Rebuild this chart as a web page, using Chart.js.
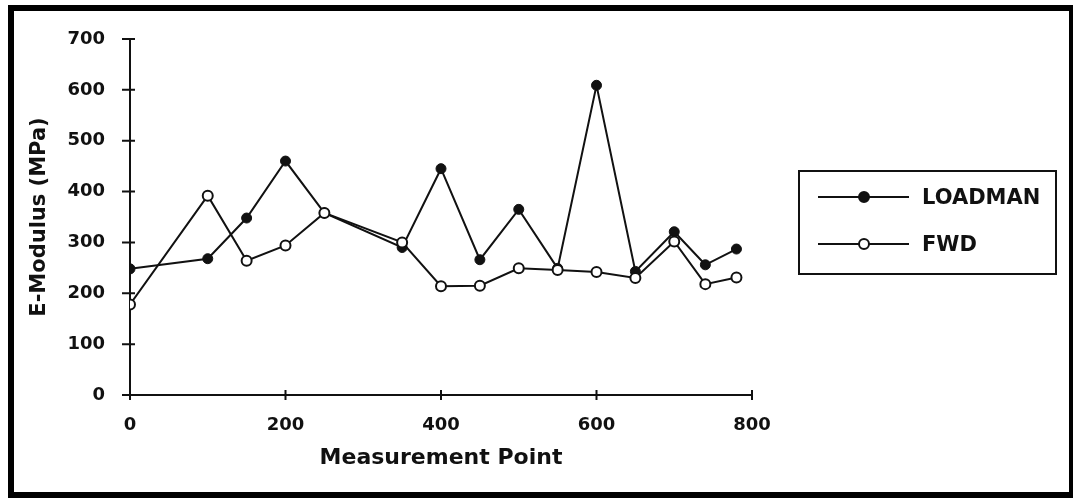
<!DOCTYPE html>
<html>
<head>
<meta charset="utf-8">
<script src="https://cdn.jsdelivr.net/npm/chart.js@4/dist/chart.umd.min.js"></script>
<style>
  html, body { margin: 0; padding: 0; background: #fff; overflow: hidden; }
  #wrap { position: relative; width: 1073px; height: 501px; }
  #frame {
    position: absolute; left: 8px; top: 5px; width: 1055px; height: 481px;
    border: 6px solid #000; border-right-width: 6px; pointer-events: none;
  }
  #legend {
    position: absolute; left: 798px; top: 170px; width: 255px; height: 101px;
    border: 2px solid #111; font: bold 21px "DejaVu Sans", sans-serif; color: #111;
  }
  .item { position: absolute; left: 18px; height: 24px; display: flex; align-items: center; }
  .swatch { position: relative; width: 91px; height: 2px; background: #111; margin-right: 13px; }
  .dot { position: absolute; left: 40px; top: -5px; width: 8px; height: 8px; border: 2px solid #111; border-radius: 50%; }
</style>
</head>
<body>
<div id="wrap">
  <canvas id="chart" width="1073" height="501"></canvas>
  <div id="legend"></div>
  <div id="frame"></div>
</div>
<script>
// measurement positions and E-modulus readings (MPa)
const positions = [0, 100, 150, 200, 250, 350, 400, 450, 500, 550, 600, 650, 700, 740, 780];
const loadman   = [248, 268, 348, 460, 358, 290, 445, 266, 365, 249, 609, 243, 321, 256, 287];
const fwd       = [178, 392, 264, 294, 358, 300, 214, 215, 249, 246, 242, 230, 302, 218, 231];
const seriesNames = ['LOADMAN', 'FWD'];
const xTickValues = [0, 200, 400, 600, 800];
const yTickValues = [0, 100, 200, 300, 400, 500, 600, 700];

const ink = '#111';
const tickFont = { family: 'DejaVu Sans', size: 18, weight: 'bold' };

// little tick marks crossing each axis, like the original plot
const crossTicks = {
  id: 'crossTicks',
  afterDraw(chart) {
    const { ctx, scales: { x, y } } = chart;
    ctx.save();
    ctx.strokeStyle = ink;
    ctx.lineWidth = 2;
    ctx.beginPath();
    xTickValues.forEach(v => {
      const px = x.getPixelForValue(v);
      ctx.moveTo(px, y.bottom - 5);
      ctx.lineTo(px, y.bottom + 5);
    });
    yTickValues.forEach(v => {
      const py = y.getPixelForValue(v);
      ctx.moveTo(x.left - 8, py);
      ctx.lineTo(x.left + 5, py);
    });
    ctx.stroke();
    ctx.restore();
  }
};

const chart = new Chart(document.getElementById('chart'), {
  type: 'line',
  data: {
    datasets: [
      {
        label: seriesNames[0],
        data: positions.map((p, i) => ({ x: p, y: loadman[i] })),
        borderColor: ink, backgroundColor: ink,
        pointBackgroundColor: ink, pointBorderColor: ink,
        borderWidth: 2, pointRadius: 5, pointBorderWidth: 1,
        tension: 0, order: 1
      },
      {
        label: seriesNames[1],
        data: positions.map((p, i) => ({ x: p, y: fwd[i] })),
        borderColor: ink, backgroundColor: '#fff',
        pointBackgroundColor: '#fff', pointBorderColor: ink,
        borderWidth: 2, pointRadius: 5, pointBorderWidth: 2,
        tension: 0, order: 0
      }
    ]
  },
  options: {
    responsive: false,
    animation: false,
    layout: { padding: { left: 0, right: 321, top: 39, bottom: 0 } },
    plugins: { legend: { display: false }, tooltip: { enabled: false } },
    scales: {
      x: {
        type: 'linear', min: 0, max: 800,
        afterFit: s => { s.height = 106; },
        afterBuildTicks: s => { s.ticks = xTickValues.map(v => ({ value: v })); },
        grid: { display: false, drawTicks: false },
        border: { color: ink, width: 2 },
        ticks: { color: ink, font: tickFont, padding: 20 },
        title: {
          display: true, text: 'Measurement Point', color: ink,
          font: { family: 'DejaVu Sans', size: 22, weight: 'bold' },
          padding: { top: 4, bottom: 30 }
        }
      },
      y: {
        min: 0, max: 700,
        afterFit: s => { s.width = 130; },
        afterBuildTicks: s => { s.ticks = yTickValues.map(v => ({ value: v })); },
        grid: { display: false, drawTicks: false },
        border: { color: ink, width: 2 },
        ticks: { color: ink, font: tickFont, padding: 25 },
        title: {
          display: true, text: 'E-Modulus (MPa)', color: ink,
          font: { family: 'DejaVu Sans', size: 21, weight: 'bold' },
          padding: { top: 27, bottom: 0 }
        }
      }
    }
  },
  plugins: [crossTicks]
});

// boxed legend built from the chart datasets
const legend = document.getElementById('legend');
chart.data.datasets.forEach((ds, i) => {
  const item = document.createElement('div');
  item.className = 'item';
  item.style.top = (13 + i * 47) + 'px';
  const sw = document.createElement('span');
  sw.className = 'swatch';
  const dot = document.createElement('span');
  dot.className = 'dot';
  dot.style.background = ds.pointBackgroundColor;
  sw.appendChild(dot);
  const txt = document.createElement('span');
  txt.textContent = ds.label;
  item.appendChild(sw);
  item.appendChild(txt);
  legend.appendChild(item);
});
</script>
</body>
</html>
